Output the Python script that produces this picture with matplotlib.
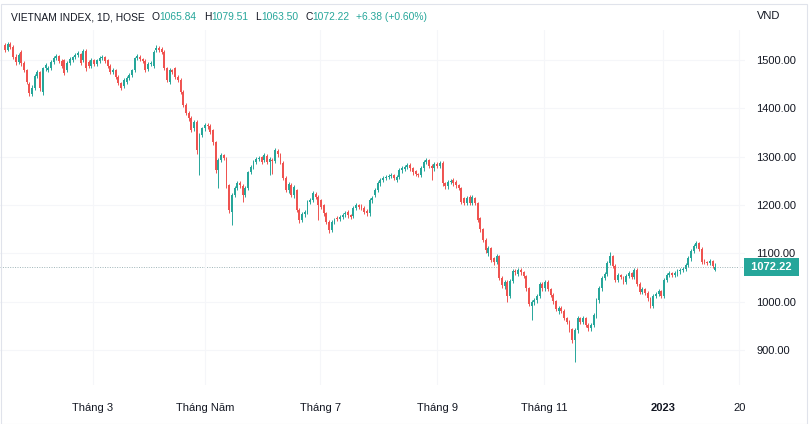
import numpy as np
import matplotlib
matplotlib.use("Agg")
import matplotlib.pyplot as plt
import matplotlib.transforms as mtransforms
from matplotlib.patches import Rectangle

# daily candles, VN-Index
opens = [1531, 1521, 1533, 1527, 1507, 1496, 1517, 1494, 1479, 1450, 1430, 1442, 1467, 1475, 1434, 1483,
         1479, 1483, 1496, 1504, 1508, 1498, 1500, 1479, 1494, 1500, 1506, 1510, 1512, 1500, 1519, 1496,
         1488, 1500, 1492, 1498, 1504, 1506, 1500, 1488, 1475, 1479, 1465, 1452, 1446, 1455, 1463, 1469,
         1479, 1504, 1506, 1502, 1498, 1481, 1492, 1488, 1521, 1525, 1523, 1517, 1483, 1455, 1479, 1483,
         1465, 1459, 1434, 1407, 1391, 1380, 1359, 1372, 1314, 1345, 1359, 1366, 1364, 1355, 1330, 1272,
         1293, 1303, 1297, 1241, 1186, 1221, 1235, 1245, 1239, 1221, 1235, 1268, 1279, 1289, 1295, 1299,
         1293, 1301, 1289, 1293, 1291, 1312, 1305, 1287, 1256, 1231, 1241, 1221, 1231, 1190, 1169, 1181,
         1186, 1206, 1210, 1223, 1217, 1210, 1200, 1183, 1165, 1148, 1165, 1173, 1171, 1175, 1181, 1186,
         1179, 1177, 1194, 1200, 1198, 1194, 1188, 1183, 1210, 1221, 1231, 1245, 1252, 1256, 1258, 1260,
         1262, 1252, 1258, 1272, 1274, 1279, 1283, 1276, 1270, 1264, 1262, 1276, 1289, 1293, 1281, 1276,
         1285, 1281, 1287, 1245, 1239, 1248, 1252, 1248, 1241, 1235, 1214, 1204, 1217, 1204, 1214, 1204,
         1173, 1150, 1128, 1100, 1111, 1090, 1082, 1094, 1049, 1032, 1041, 1012, 1043, 1063, 1058, 1066,
         1061, 1053, 1028, 990, 999, 1003, 1012, 1037, 1028, 1041, 1026, 1014, 1001, 980, 987, 981,
         966, 958, 943, 921, 941, 966, 958, 966, 952, 945, 952, 972, 1003, 1028, 1049, 1057,
         1080, 1094, 1074, 1045, 1055, 1051, 1041, 1053, 1059, 1051, 1066, 1037, 1020, 1026, 1018, 1007,
         991, 1012, 1016, 1022, 1012, 1045, 1055, 1059, 1055, 1059, 1063, 1066, 1068, 1076, 1090, 1105,
         1115, 1121, 1109, 1086, 1082, 1080, 1084, 1065.84]
closes = [1521, 1533, 1527, 1507, 1496, 1510, 1494, 1479, 1455, 1432, 1442, 1467, 1475, 1442, 1483, 1490,
          1483, 1496, 1504, 1508, 1498, 1488, 1473, 1494, 1502, 1506, 1510, 1514, 1494, 1519, 1483, 1488,
          1500, 1492, 1500, 1504, 1506, 1498, 1488, 1475, 1479, 1465, 1452, 1442, 1459, 1463, 1469, 1479,
          1504, 1508, 1502, 1498, 1479, 1492, 1494, 1517, 1525, 1521, 1517, 1483, 1459, 1479, 1475, 1465,
          1459, 1434, 1407, 1391, 1380, 1355, 1372, 1314, 1345, 1359, 1366, 1364, 1351, 1330, 1272, 1293,
          1303, 1297, 1241, 1190, 1221, 1235, 1245, 1241, 1221, 1235, 1268, 1279, 1289, 1295, 1297, 1289,
          1303, 1289, 1295, 1291, 1314, 1305, 1289, 1256, 1231, 1243, 1221, 1237, 1190, 1169, 1181, 1186,
          1206, 1210, 1225, 1217, 1200, 1196, 1183, 1165, 1148, 1165, 1169, 1171, 1175, 1179, 1183, 1179,
          1175, 1194, 1200, 1196, 1194, 1186, 1183, 1210, 1214, 1231, 1245, 1252, 1256, 1258, 1260, 1262,
          1256, 1258, 1272, 1276, 1279, 1283, 1276, 1268, 1264, 1262, 1276, 1289, 1293, 1281, 1276, 1285,
          1281, 1287, 1245, 1239, 1248, 1250, 1245, 1241, 1235, 1206, 1204, 1214, 1204, 1217, 1204, 1169,
          1150, 1128, 1107, 1111, 1086, 1082, 1094, 1049, 1034, 1041, 1012, 1043, 1063, 1061, 1066, 1061,
          1053, 1028, 995, 999, 1003, 1012, 1037, 1028, 1041, 1026, 1014, 1001, 985, 987, 981, 966,
          958, 943, 921, 941, 966, 958, 966, 952, 945, 952, 972, 1003, 1028, 1049, 1057, 1080,
          1094, 1074, 1045, 1055, 1051, 1041, 1053, 1059, 1051, 1066, 1037, 1020, 1026, 1018, 1007, 991,
          1012, 1016, 1022, 1012, 1045, 1055, 1059, 1055, 1059, 1063, 1066, 1068, 1076, 1090, 1105, 1115,
          1121, 1109, 1082, 1082, 1080, 1084, 1074, 1072.22]
highs = [1536, 1538, 1537, 1530, 1512, 1514, 1520, 1498, 1482, 1455, 1448, 1470, 1480, 1478, 1486, 1494,
         1488, 1499, 1508, 1512, 1511, 1502, 1503, 1497, 1506, 1509, 1514, 1518, 1515, 1523, 1522, 1499,
         1504, 1503, 1503, 1508, 1510, 1509, 1503, 1491, 1483, 1482, 1468, 1455, 1463, 1467, 1473, 1482,
         1507, 1512, 1510, 1505, 1501, 1496, 1498, 1521, 1530, 1528, 1527, 1520, 1486, 1483, 1482, 1486,
         1468, 1462, 1437, 1410, 1394, 1384, 1376, 1375, 1348, 1362, 1370, 1370, 1367, 1358, 1333, 1297,
         1307, 1306, 1300, 1244, 1225, 1239, 1249, 1249, 1243, 1239, 1271, 1283, 1293, 1299, 1301, 1302,
         1307, 1305, 1299, 1297, 1318, 1316, 1308, 1290, 1259, 1247, 1245, 1241, 1234, 1193, 1185, 1190,
         1210, 1214, 1229, 1227, 1220, 1213, 1203, 1186, 1168, 1169, 1173, 1177, 1179, 1183, 1187, 1189,
         1182, 1198, 1204, 1203, 1201, 1197, 1191, 1214, 1218, 1235, 1249, 1256, 1260, 1262, 1264, 1266,
         1265, 1262, 1276, 1280, 1283, 1287, 1286, 1279, 1273, 1267, 1280, 1293, 1297, 1296, 1284, 1289,
         1288, 1291, 1290, 1248, 1252, 1254, 1255, 1251, 1244, 1238, 1217, 1218, 1220, 1221, 1217, 1207,
         1176, 1153, 1131, 1115, 1114, 1093, 1098, 1097, 1052, 1045, 1044, 1047, 1067, 1067, 1070, 1069,
         1064, 1056, 1031, 1003, 1007, 1016, 1041, 1040, 1045, 1044, 1029, 1017, 1004, 991, 990, 984,
         969, 961, 946, 945, 970, 969, 970, 969, 955, 956, 976, 1007, 1032, 1053, 1061, 1084,
         1103, 1097, 1077, 1059, 1058, 1054, 1057, 1063, 1062, 1070, 1069, 1040, 1030, 1029, 1021, 1010,
         1016, 1020, 1026, 1025, 1049, 1059, 1063, 1062, 1063, 1067, 1070, 1072, 1080, 1094, 1109, 1119,
         1125, 1124, 1112, 1089, 1085, 1088, 1087, 1079.51]
lows = [1517, 1518, 1523, 1503, 1490, 1492, 1488, 1476, 1450, 1425, 1426, 1438, 1463, 1436, 1428, 1478,
        1475, 1480, 1492, 1500, 1494, 1484, 1468, 1475, 1490, 1496, 1502, 1506, 1490, 1496, 1478, 1484,
        1484, 1488, 1488, 1494, 1500, 1494, 1484, 1470, 1471, 1460, 1448, 1437, 1442, 1451, 1459, 1465,
        1475, 1500, 1498, 1494, 1475, 1477, 1488, 1484, 1517, 1516, 1512, 1479, 1454, 1450, 1470, 1460,
        1454, 1429, 1402, 1386, 1374, 1350, 1352, 1305, 1262, 1340, 1354, 1358, 1346, 1325, 1266, 1235,
        1288, 1292, 1236, 1184, 1159, 1216, 1230, 1236, 1206, 1216, 1230, 1264, 1275, 1284, 1290, 1284,
        1288, 1284, 1262, 1264, 1286, 1300, 1284, 1251, 1226, 1225, 1216, 1215, 1185, 1163, 1164, 1176,
        1182, 1202, 1206, 1212, 1169, 1191, 1178, 1160, 1142, 1144, 1160, 1166, 1166, 1170, 1176, 1174,
        1170, 1172, 1190, 1192, 1189, 1181, 1178, 1178, 1205, 1216, 1226, 1240, 1248, 1251, 1253, 1255,
        1251, 1247, 1253, 1267, 1270, 1274, 1271, 1263, 1259, 1257, 1257, 1271, 1284, 1276, 1252, 1271,
        1276, 1276, 1240, 1234, 1234, 1243, 1240, 1236, 1230, 1201, 1199, 1199, 1199, 1199, 1199, 1164,
        1145, 1123, 1100, 1095, 1081, 1076, 1077, 1044, 1029, 1026, 1000, 1007, 1038, 1056, 1053, 1056,
        1048, 1023, 990, 962, 994, 998, 1007, 1023, 1023, 1021, 1009, 996, 980, 975, 976, 961,
        953, 938, 914, 875, 936, 953, 953, 947, 940, 940, 947, 967, 998, 1023, 1044, 1052,
        1075, 1069, 1040, 1040, 1046, 1036, 1036, 1048, 1046, 1046, 1032, 1015, 1015, 1013, 1002, 986,
        986, 1007, 1011, 1007, 1007, 1040, 1050, 1050, 1050, 1054, 1058, 1061, 1063, 1071, 1085, 1100,
        1110, 1104, 1077, 1077, 1075, 1075, 1069, 1063.50]

# month labels and the candle index where each one sits
month_labels = ["Tháng 3", "Tháng Năm", "Tháng 7", "Tháng 9", "Tháng 11", "2023", "20"]
month_pos = [32.6, 74.1, 116.7, 160, 199.6, 243.7, 271.9]
price_ticks = [900, 1000, 1100, 1200, 1300, 1400, 1500]

last_open, last_high, last_low, last_close = 1065.84, 1079.51, 1063.50, 1072.22
change, change_pct = 6.38, 0.60

UP = "#26a69a"
DOWN = "#ef5350"
TEXT = "#131722"
GRID = "#f5f6f9"
FONT = "Liberation Sans"

o = np.array(opens, dtype=float)
c = np.array(closes, dtype=float)
h = np.array(highs, dtype=float)
l = np.array(lows, dtype=float)
idx = np.arange(len(c))
cols = np.where(c >= o, UP, DOWN)

plt.rcParams["font.family"] = [FONT, "DejaVu Sans"]

fig = plt.figure(figsize=(8.1, 4.24), dpi=100)
fig.patch.set_facecolor("white")
ax = fig.add_axes([0.0, 39 / 424, 745 / 810, 355 / 424])

ax.vlines(idx, l, h, colors=cols, linewidth=0.7, zorder=2)
body = np.maximum(np.abs(c - o), 1.2)
ax.bar(idx, body, bottom=np.minimum(o, c), width=0.7, color=cols,
       linewidth=0, zorder=3)

ax.set_xlim(-1.85, 274)
ax.set_ylim(827.5, 1562)

for sp in ax.spines.values():
    sp.set_visible(False)

ax.set_xticks(month_pos)
ax.set_xticklabels(month_labels)
for lab in ax.get_xticklabels():
    if lab.get_text() == "2023":
        lab.set_fontweight("bold")
ax.set_yticks(price_ticks)
ax.set_yticklabels(["%.2f" % p for p in price_ticks])
ax.yaxis.tick_right()
ax.tick_params(axis="y", length=0, pad=8, labelsize=8, labelcolor=TEXT)
ax.tick_params(axis="x", length=0, pad=13, labelsize=8, labelcolor=TEXT)
for lab in ax.get_yticklabels():
    lab.set_horizontalalignment("left")
ax.grid(True, color=GRID, linewidth=0.8, zorder=0)

# last price line + label
ax.axhline(last_close, color="#9fb4b8", linestyle=(0, (1, 1.5)), linewidth=0.7, zorder=1)
trans = mtransforms.blended_transform_factory(ax.transAxes, ax.transData)
ax.text(1.0 + 3 / 745, last_close, " %.2f " % last_close, transform=trans,
        ha="left", va="center", fontsize=8, color="white", fontweight="bold",
        bbox=dict(boxstyle="square,pad=0.35", fc=UP, ec="none"), clip_on=False)

fig.text(757 / 810, 1 - 16 / 424, "VND", fontsize=8, color=TEXT, va="center", ha="left")

# header line: pieces chained left to right
ty = 1 - 17 / 424
pieces = [
    ("VIETNAM INDEX, 1D, HOSE", TEXT, 7),
    ("O", TEXT, 0), ("%.2f" % last_open, UP, 7),
    ("H", TEXT, 0), ("%.2f" % last_high, UP, 7),
    ("L", TEXT, 0), ("%.2f" % last_low, UP, 7),
    ("C", TEXT, 0), ("%.2f" % last_close, UP, 7),
    ("+%.2f (+%.2f%%)" % (change, change_pct), UP, 0),
]
renderer = fig.canvas.get_renderer()
px = 11.0
for s, col, gap in pieces:
    t = fig.text(px / 810, ty, s, fontsize=7.4, color=col, va="center", ha="left")
    px += t.get_window_extent(renderer).width + gap

# outer frame
fig.add_artist(Rectangle((0.5 / 810, 0.5 / 424), 806 / 810, 420 / 424, transform=fig.transFigure,
                         fill=False, edgecolor="#e0e3eb", linewidth=0.8))

fig.savefig("out.png", dpi=100, facecolor="white")
